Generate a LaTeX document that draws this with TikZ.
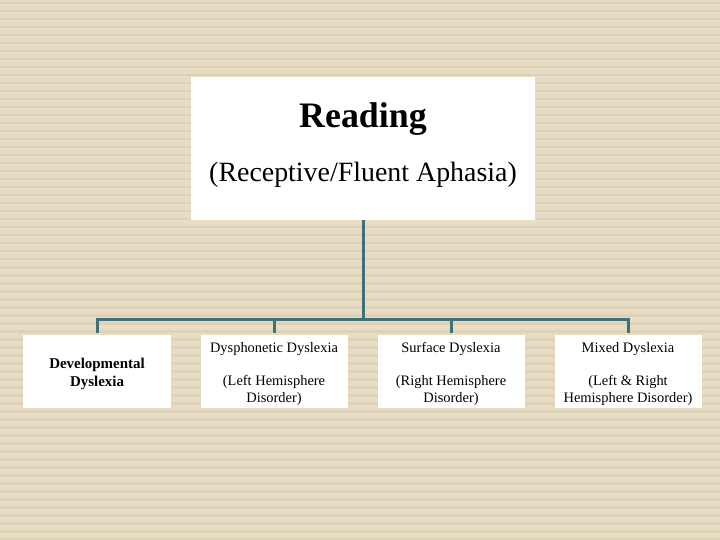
\documentclass[tikz,border=0pt]{standalone}
\usepackage{fontspec}
\setmainfont{Liberation Serif}
\definecolor{bg}{HTML}{E7DCC4}
\definecolor{stripe}{HTML}{DDD2B8}
\definecolor{teal}{HTML}{3F7278}
\tikzset{box/.style={fill=white,draw=none,inner sep=0pt,align=center},
 conn/.style={draw=teal,line width=3bp}}
\begin{document}
\begin{tikzpicture}[x=1bp,y=-1bp]
\fill[bg] (0,0) rectangle (720,540);
\useasboundingbox (0,0) rectangle (720,540);
\foreach \y in {2,10,...,538} \fill[stripe] (0,\y) rectangle (720,\y+2.5);
\node[box,minimum width=344bp,minimum height=143bp] (r) at (363,148.5) {};
\node (rt) at (363,119) {\fontsize{36}{40}\selectfont\bfseries Reading};
\node (rs) at (363,175) {\fontsize{28}{32}\selectfont (Receptive/Fluent Aphasia)};
\coordinate (h) at (363,319);
\coordinate (h1) at (97,319);
\coordinate (h2) at (274,319);
\coordinate (h3) at (451,319);
\coordinate (h4) at (628,319);
\draw[conn] (r.south) -- (h);
\draw[conn] ([yshift=1.5bp]h1) -- ++(0,15);
\draw[conn] ([yshift=1.5bp]h2) -- ++(0,15);
\draw[conn] ([yshift=1.5bp]h3) -- ++(0,15);
\draw[conn] ([yshift=1.5bp]h4) -- ++(0,15);
\draw[conn] ([xshift=-1.5bp]h1) -- ([xshift=1.5bp]h4);
\node[box,minimum width=147bp,minimum height=73bp] (d) at (97,371.5) {};
\node[font=\fontsize{15}{18}\selectfont\bfseries,align=center] (dt) at (97,374) {Developmental\\Dyslexia};
\foreach \n/\x/\a/\b in {p/274/Dysphonetic Dyslexia/{(Left Hemisphere\\Disorder)},
  s/451/Surface Dyslexia/{(Right Hemisphere\\Disorder)},
  m/628/Mixed Dyslexia/{(Left \& Right\\Hemisphere Disorder)}} {
  \node[box,minimum width=147bp,minimum height=73bp] (\n) at (\x,371.5) {};
  \node[font=\fontsize{14.5}{16}\selectfont] (\n t) at (\x,349) {\a};
  \node[font=\fontsize{14.5}{16.5}\selectfont,align=center] (\n b) at (\x,390.5) {\b};
}
\end{tikzpicture}
\end{document}
